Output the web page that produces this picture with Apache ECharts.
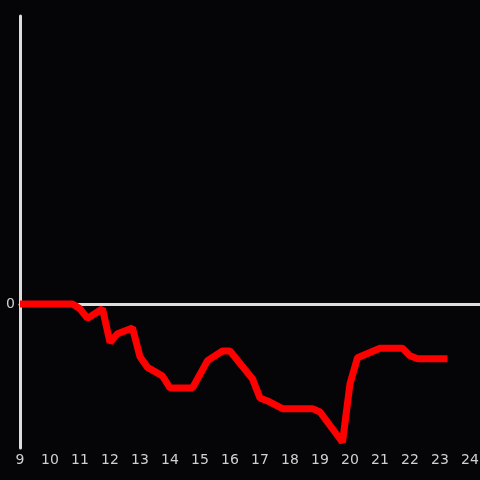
<!DOCTYPE html>
<html>
<head>
<meta charset="utf-8">
<script src="https://cdn.jsdelivr.net/npm/echarts@6/dist/echarts.min.js"></script>
<style>
  html, body { margin: 0; padding: 0; background: #050407; }
  #chart { width: 480px; height: 480px; }
</style>
</head>
<body>
<div id="chart"></div>
<script>
// hour of day
var hours = [9, 10.75, 11, 11.25, 11.75, 12, 12.25, 12.75, 13, 13.25, 13.75, 14, 14.75,
  15.25, 15.75, 16, 16.75, 17, 17.25, 17.75, 18.75, 19, 19.75, 20, 20.25, 21, 21.75,
  22, 22.25, 23.25];
var values = [0, 0, -0.05, -0.15, -0.05, -0.40, -0.31, -0.25, -0.55, -0.66, -0.75, -0.875, -0.875,
  -0.59, -0.49, -0.49, -0.78, -0.98, -1.01, -1.09, -1.09, -1.125, -1.44, -0.83, -0.56, -0.46, -0.46,
  -0.54, -0.57, -0.57];
var xTicks = [9, 24];

var chart = echarts.init(document.getElementById('chart'));

var pts = [];
for (var i = 0; i < hours.length; i++) {
  pts.push([hours[i], values[i]]);
}

var axisColor = '#dddddd';
var labelColor = '#d0d0d0';

chart.setOption({
  backgroundColor: '#050407',
  animation: false,
  grid: { left: 20, right: 0, top: 16, bottom: 32, outerBoundsMode: 'none' },
  xAxis: [
    {
      type: 'value',
      min: xTicks[0],
      max: xTicks[1] + 1 / 3,
      interval: 1,
      axisLine: { show: false, onZero: false },
      axisTick: { show: false },
      splitLine: { show: false },
      axisLabel: {
        color: labelColor,
        fontSize: 14,
        margin: 5,
        fontFamily: 'DejaVu Sans',
        hideOverlap: false,
        formatter: function (v) { return v <= xTicks[1] ? String(v) : ''; }
      }
    },
    {
      // zero line
      type: 'value',
      min: xTicks[0],
      max: xTicks[1] + 1 / 3,
      axisLine: { show: true, onZero: true, lineStyle: { color: axisColor, width: 3 } },
      axisTick: { show: false },
      axisLabel: { show: false },
      splitLine: { show: false }
    }
  ],
  yAxis: {
    type: 'value',
    min: -1.5,
    max: 3,
    interval: 1.5,
    axisLine: { show: true, lineStyle: { color: axisColor, width: 3 } },
    axisTick: { show: false },
    splitLine: { show: false },
    axisLabel: {
      color: labelColor,
      fontSize: 14,
      margin: 5,
      fontFamily: 'DejaVu Sans',
      formatter: function (v) { return v === 0 ? '0' : ''; }
    }
  },
  series: [
    {
      type: 'line',
      xAxisIndex: 0,
      data: pts,
      symbol: 'none',
      z: 5,
      lineStyle: { color: '#ff0000', width: 7 }
    }
  ]
});
</script>
</body>
</html>
